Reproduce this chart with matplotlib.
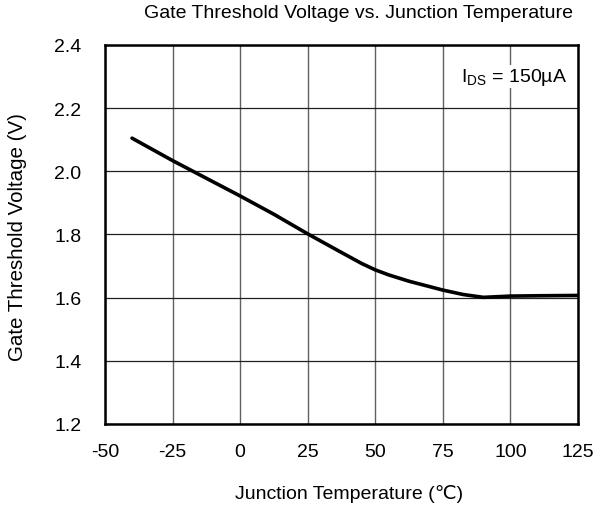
import numpy as np
import matplotlib
matplotlib.use("Agg")
import matplotlib.pyplot as plt

plt.rcParams['font.family'] = ['Liberation Sans', 'DejaVu Sans']
plt.rcParams['mathtext.fontset'] = 'custom'
plt.rcParams['mathtext.rm'] = 'Liberation Sans'

# --- datos ---
temp = [-40, -25, -12.5, 0, 12.5, 25, 37.5, 45, 50, 55, 62.5, 75, 82.5, 90, 95, 100, 110, 125]
vth = [2.105, 2.034, 1.978, 1.922, 1.864, 1.802, 1.743, 1.708, 1.688, 1.672, 1.652,
       1.624, 1.610, 1.601, 1.603, 1.605, 1.606, 1.607]

x_ticks = [-50, -25, 0, 25, 50, 75, 100, 125]
y_ticks = [1.2, 1.4, 1.6, 1.8, 2.0, 2.2, 2.4]

fs = 14

fig = plt.figure(figsize=(6.07, 5.10), dpi=100)
ax = fig.add_axes([105 / 607, 1 - 425 / 510, 473 / 607, 379 / 510])

ax.plot(temp, vth, color='black', lw=2.6, solid_capstyle='round',
        solid_joinstyle='round', zorder=3)

ax.set_xlim(-50, 125)
ax.set_ylim(1.2, 2.4)
ax.set_xticks(x_ticks)
ax.set_yticks(y_ticks)
ax.set_xticklabels([str(t) for t in x_ticks])
ax.set_yticklabels([f"{v:.1f}" for v in y_ticks])
ax.tick_params(axis='x', length=0, labelsize=fs, pad=14)
ax.tick_params(axis='y', length=0, labelsize=fs, pad=17)
ax.xaxis.grid(True, color='#606060', lw=1.0)
ax.yaxis.grid(True, color='#202020', lw=0.9)
for s in ax.spines.values():
    s.set_linewidth(1.8)

ax.text(121, 2.3, r'I$_{\rm DS}$ = 150µA', fontsize=fs, ha='right', va='center',
        bbox=dict(facecolor='white', edgecolor='none', pad=1), zorder=4)

fig.text(359 / 607, 1 - 14 / 510, 'Gate Threshold Voltage vs. Junction Temperature',
         fontsize=fs, ha='center', va='center')
fig.text(349 / 607, 1 - 494 / 510, 'Junction Temperature (℃)',
         fontsize=fs, ha='center', va='center')
fig.text(18 / 607, 1 - 237 / 510, 'Gate Threshold Voltage (V)',
         fontsize=14.8, ha='center', va='center', rotation=90)

plt.savefig('out.png', dpi=100)
